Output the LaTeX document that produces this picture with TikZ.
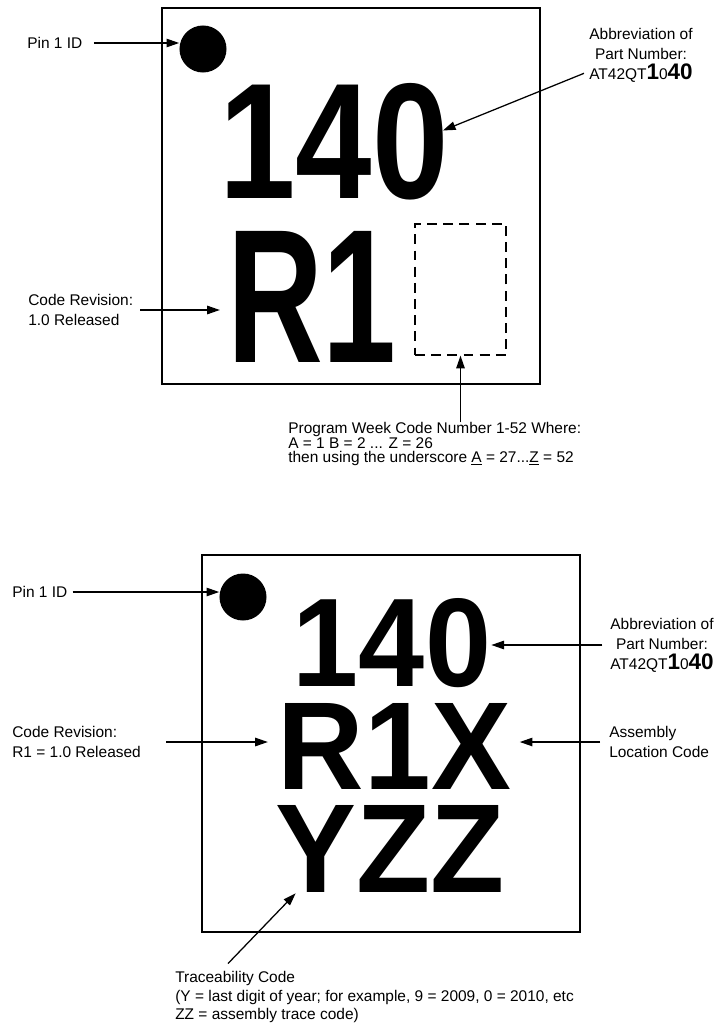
\documentclass[tikz,border=0pt]{standalone}
\usepackage{fontspec}
\setmainfont{Liberation Sans}
\usepackage{graphicx}
\usepackage{tikz}
\usetikzlibrary{arrows.meta, positioning, calc}
\tikzset{
  chip/.style={draw=black, line width=1.3pt},
  pindot/.style={circle, fill=black, minimum size=1.175cm, inner sep=0pt},
  bigcode/.style={inner sep=0pt, font=\bfseries},
  lbl/.style={font=\fontsize{11}{14.2}\selectfont, align=left, inner sep=0pt},
  wkbox/.style={draw, dash pattern=on 7pt off 4.5pt, line width=0.9pt,
    minimum width=2.275cm, minimum height=3.275cm, inner sep=0pt},
  arrow/.style={-{Triangle[length=9pt, width=6pt]}, line width=0.9pt}
}

\begin{document}
\begin{tikzpicture}[x=0.025cm, y=-0.025cm]
  \useasboundingbox (0,0) rectangle (718,1025);

  % Upper marking
  \draw[chip] (162,8) rectangle (540,384);
  \node[pindot] (dot1) at (203,49) {};
  \node[bigcode] (top140) at (334,141.5) {\resizebox{5.725cm}{2.875cm}{140}};
  \node[bigcode] (r1top) at (312,296.5) {\resizebox{4.24cm}{3.275cm}{R1}};
  \node[wkbox] (wk) at (460.5,289.5) {};

  % Upper labels
  \node[lbl, anchor=west] (pin1a) at (27,43) {Pin 1 ID};
  \node[lbl, anchor=west] (rev1) at (28,310) {Code Revision:\\1.0 Released};
  \node[lbl, anchor=west, font=\fontsize{11}{10}\selectfont] (wklab) at (288,444)
    {Program Week Code Number 1-52 Where:\\A = 1 B = 2 ... Z = 26\\then using the underscore \underline{A} = 27...\underline{Z} = 52};
  \node[lbl, align=center] (abb1) at (641,55) {Abbreviation of\\Part Number:\\AT42QT{\fontsize{16}{16}\selectfont\bfseries 1}0{\fontsize{16}{16}\selectfont\bfseries 40}};

  % Upper arrows
  \draw[arrow, shorten <=8pt] (pin1a.east) -- (dot1.west |- pin1a.east);
  \draw[arrow, shorten <=5pt, shorten >=5pt] (rev1.east) -- (r1top.west |- rev1.east);
  \draw[arrow] (wklab.north -| wk.south) -- (wk.south);
  \draw[arrow] ($(abb1.south west)+(-5,-9)$) -- ($(top140.east)+(-6,-11)$);

  % Lower marking
  \draw[chip] (202,555) rectangle (580,932);
  \node[pindot] (dot2) at (243,597) {};
  \node[bigcode] (bot140) at (392,643) {\resizebox{4.95cm}{2.2cm}{140}};
  \node[bigcode] (r1x) at (394.5,746) {\resizebox{5.825cm}{2.15cm}{R1X}};
  \node[bigcode] (yzz) at (390.5,848.5) {\resizebox{5.725cm}{2.175cm}{YZZ}};

  % Lower labels
  \node[lbl, anchor=west] (pin1b) at (12,592) {Pin 1 ID};
  \node[lbl, anchor=west] (rev2) at (12,742) {Code Revision:\\R1 = 1.0 Released};
  \node[lbl, align=center] (abb2) at (662,645) {Abbreviation of\\Part Number:\\AT42QT{\fontsize{16}{16}\selectfont\bfseries 1}0{\fontsize{16}{16}\selectfont\bfseries 40}};
  \node[lbl, anchor=west] (asm) at (609,742) {Assembly\\Location Code};
  \node[lbl, anchor=west, font=\fontsize{11}{13.5}\selectfont] (trc) at (175,997)
    {Traceability Code\\(Y = last digit of year; for example, 9 = 2009, 0 = 2010, etc\\ZZ = assembly trace code)};

  % Lower arrows
  \draw[arrow, shorten <=3.5pt] (pin1b.east) -- (dot2.west |- pin1b.east);
  \draw[arrow, shorten <=18pt, shorten >=7pt] (rev2.east) -- (r1x.west |- rev2.east);
  \draw[arrow, shorten <=5.5pt] (abb2.west) -- (bot140.east |- abb2.west);
  \draw[arrow, shorten <=6.4pt, shorten >=6pt] (asm.west) -- (r1x.east |- asm.west);
  \draw[arrow] ($(trc.north west)+(53,-7)$) -- ($(yzz.south west)+(20,1)$);
\end{tikzpicture}
\end{document}
